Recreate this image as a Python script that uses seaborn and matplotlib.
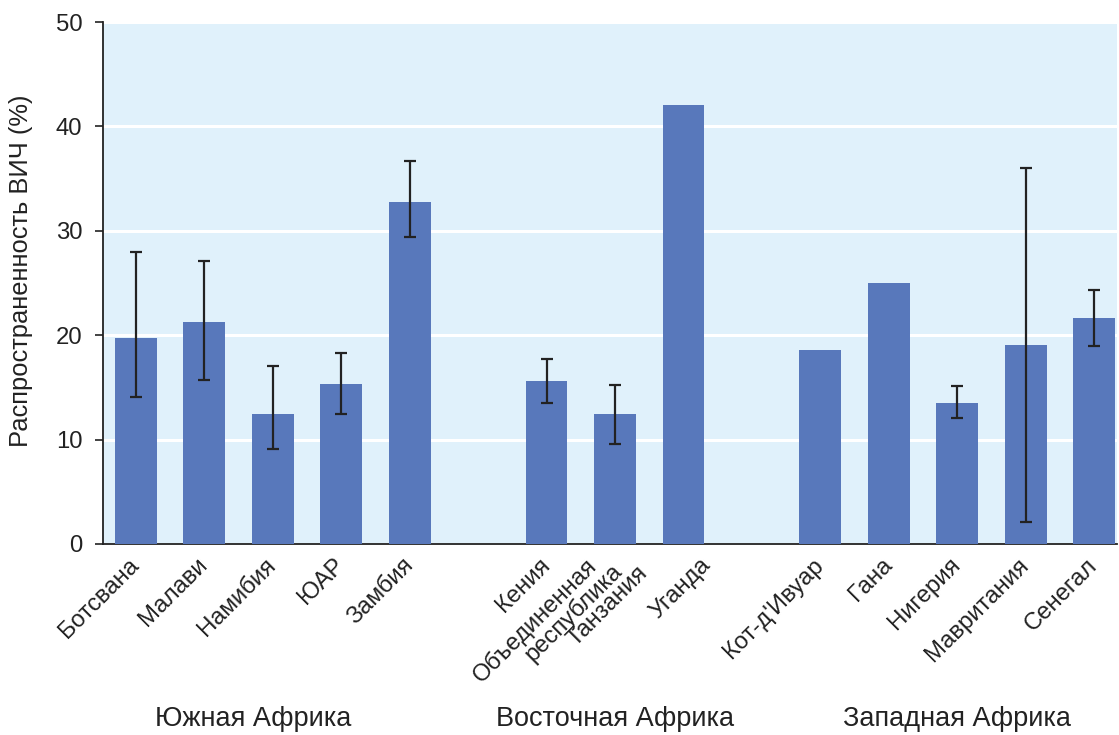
import numpy as np
import pandas as pd
import matplotlib
matplotlib.use("Agg")
import matplotlib.pyplot as plt
import seaborn as sns

# HIV prevalence by country, grouped by region
countries = ["Ботсвана", "Малави", "Намибия", "ЮАР", "Замбия",
             "Кения", "Объединенная республика Танзания", "Уганда",
             "Кот-д'Ивуар", "Гана", "Нигерия", "Мавритания", "Сенегал"]
regions = ["Южная Африка"] * 5 + ["Восточная Африка"] * 3 + ["Западная Африка"] * 5
prevalence = [19.7, 21.3, 12.4, 15.3, 32.8,
              15.6, 12.4, 42.1,
              18.6, 25.0, 13.5, 19.1, 21.6]
ci_low = [14.1, 15.7, 9.1, 12.4, 29.4,
          13.5, 9.6, np.nan,
          np.nan, np.nan, 12.1, 2.1, 19.0]
ci_high = [28.0, 27.1, 17.0, 18.3, 36.7,
           17.7, 15.2, np.nan,
           np.nan, np.nan, 15.1, 36.0, 24.3]
region_names = ["Южная Африка", "Восточная Африка", "Западная Африка"]
y_ticks = [0, 10, 20, 30, 40, 50]

# slot positions: one empty slot between regions
pos = []
slot = 0
prev = regions[0]
for r in regions:
    if r != prev:
        slot += 1
        prev = r
    pos.append(slot)
    slot += 1
pos = np.array(pos, dtype=float)

df = pd.DataFrame({"pos": pos, "prev": prevalence, "country": countries, "region": regions})

sns.set_theme(style="white")
plt.rcParams["font.family"] = ["Liberation Sans", "DejaVu Sans"]

TXT = "#222222"
FS = 17.2

fig = plt.figure(figsize=(11.19, 7.35), dpi=100)
ax = fig.add_axes([0.092, 0.260, 0.906, 0.710])
ax.set_facecolor("#e0f1fb")

sns.barplot(data=df, x="pos", y="prev", native_scale=True, width=0.61,
            color="#5878bb", saturation=1, errorbar=None, linewidth=0,
            ax=ax, zorder=3)

lo = np.array(ci_low)
hi = np.array(ci_high)
val = np.array(prevalence)
mask = ~np.isnan(lo)
ax.errorbar(pos[mask], val[mask],
            yerr=[val[mask] - lo[mask], hi[mask] - val[mask]],
            fmt="none", ecolor=TXT, elinewidth=1.6, capsize=4.4,
            capthick=1.6, zorder=4)

ax.set_ylim(0, 50)
ax.set_yticks(y_ticks)
ax.yaxis.grid(True, color="white", linewidth=2.2, zorder=1)
ax.set_axisbelow(True)
ax.set_xlim(pos[0] - 0.48, pos[-1] + 0.33)

# country labels; the long Tanzania name is split and staggered,
# the Uganda label is nudged right to keep clear of it
PAD = 13
special = {
    "Объединенная республика Танзания": [("Объединенная", -15.8, 0.0),
                                         ("республика", 2.2, -4.3),
                                         ("Танзания", 20.9, -5.8)],
    "Уганда": [("Уганда", 17.3, 0.0)],
}
ax.set_xticks(pos)
ax.set_xticklabels(["" if c in special else c for c in countries],
                   rotation=45, ha="right", va="center", rotation_mode="anchor",
                   fontsize=FS, color=TXT)
for p, c in zip(pos, countries):
    for text, dx, dy in special.get(c, []):
        ax.annotate(text, xy=(p, 0), xycoords=("data", "axes fraction"),
                    xytext=(dx, dy - PAD), textcoords="offset points",
                    rotation=45, ha="right", va="center", rotation_mode="anchor",
                    fontsize=FS, color=TXT, annotation_clip=False)

ax.tick_params(axis="x", length=0, pad=PAD)
ax.tick_params(axis="y", length=5.8, width=1.2, color=TXT, labelsize=FS,
               labelcolor=TXT, pad=9, left=True)
ax.set_xlabel("")
ax.set_ylabel("Распространенность ВИЧ (%)", fontsize=18.4, color=TXT)
ax.yaxis.set_label_coords(-0.069, 0.523)

for s in ["top", "right"]:
    ax.spines[s].set_visible(False)
for s in ["left", "bottom"]:
    ax.spines[s].set_color(TXT)
    ax.spines[s].set_linewidth(1.3)

# region captions under the tick labels
group_x = [1.72, 7.0, 12.0]
for gx, name in zip(group_x, region_names):
    ax.text(gx, -0.335, name, transform=ax.get_xaxis_transform(),
            ha="center", va="center", fontsize=19.5, color=TXT)

fig.savefig("out.png", dpi=100)
